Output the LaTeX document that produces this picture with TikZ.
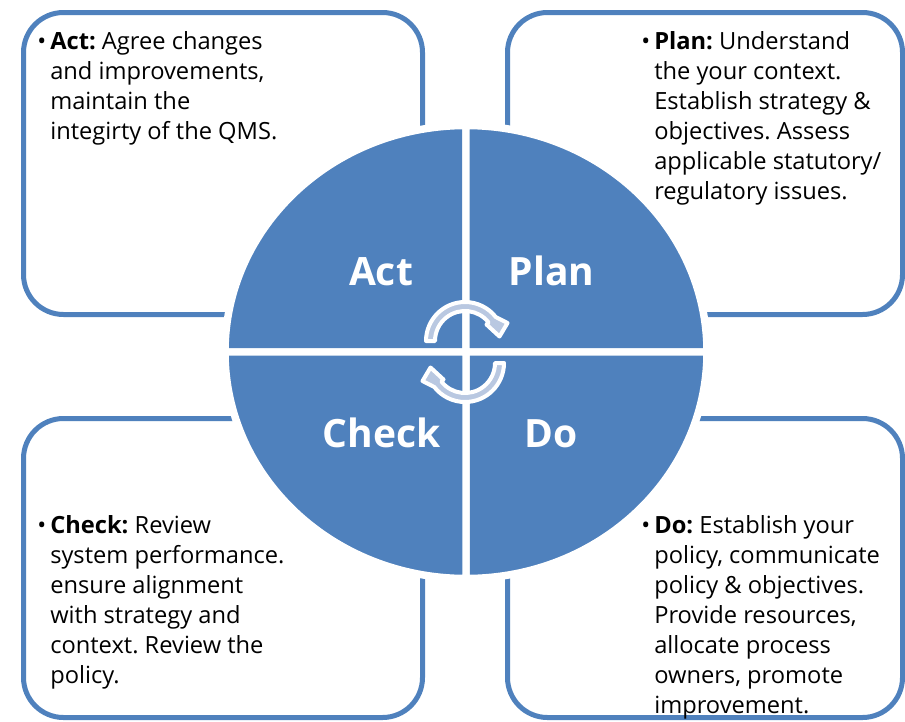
\documentclass[tikz,border=0pt]{standalone}
\usepackage{fontspec}
\setmainfont{Open Sans}
\frenchspacing
\begin{document}
\begin{tikzpicture}[x=0.75pt,y=-0.75pt]
\definecolor{qblue}{HTML}{4F81BD}
\definecolor{qpale}{HTML}{B9C8E1}
\tikzset{
  panel/.style={draw=qblue, line width=3.75pt, rounded corners=30pt, fill=white},
  quad/.style={fill=qblue, draw=white, line width=5.6pt},
  cyc/.style={fill=qpale, draw=white, line width=3pt, line join=round},
  stage/.style={text=white, font=\bfseries\fontsize{29.25}{35}\selectfont, anchor=base, inner sep=0},
  % multi-line nodes sit on the baseline of their last line
  body/.style={anchor=base west, inner sep=0, align=left, font=\fontsize{17.75}{22.5}\selectfont},
  dot/.style={anchor=base west, inner sep=0, font=\fontsize{17.75}{22.5}\selectfont},
  cyclearrow/.pic={
    \path[cyc] (-39,0) arc[start angle=180, end angle=322, radius=39]
      -- (42.5,-18) -- (34.5,-4.5) -- (21.5,-16.5)
      -- (23.64,-18.47) arc[start angle=322, end angle=180, radius=30] -- cycle;
  }
}
\useasboundingbox (0,0) rectangle (905,721);

% four text panels
\draw[panel] (23.5,12.5) rectangle (422.5,314.5);
\draw[panel] (507.5,12.5) rectangle (902.5,314.5);
\draw[panel] (23.5,418.5) rectangle (422.5,717.5);
\draw[panel] (507.5,418.5) rectangle (902.5,717.5);

% the PDCA disc, split into quadrants
\path[quad] (466,352) -- (225,352) arc[start angle=180, end angle=270, x radius=241, y radius=226.5] -- cycle;
\path[quad] (466,352) -- (466,125.5) arc[start angle=270, end angle=360, x radius=241, y radius=226.5] -- cycle;
\path[quad] (466,352) -- (707,352) arc[start angle=0, end angle=90, x radius=241, y radius=226.5] -- cycle;
\path[quad] (466,352) -- (466,578.5) arc[start angle=90, end angle=180, x radius=241, y radius=226.5] -- cycle;

% cycle arrows in the middle
\pic at (465,341) {cyclearrow};
\pic[rotate=180] at (465,363) {cyclearrow};

% stage labels
\node[stage] (act)   at (381,285)   {Act};
\node[stage] (plan)  at (551.5,285) {Plan};
\node[stage] (check) at (381.5,447) {Check};
\node[stage] (do)    at (551,447)   {Do};

% panel texts
\node[dot] (actdot) at (37,49) {•};
\node[body] (acttext) at (50,139) {\textbf{Act:} Agree changes\\and improvements,\\maintain the\\integirty of the QMS.};

\node[dot] (plandot) at (641,49) {•};
\node[body] (plantext) at (654,199) {\textbf{Plan:} Understand\\the your context.\\Establish strategy \&\\objectives. Assess\\applicable statutory/\\regulatory issues.};

\node[dot] (checkdot) at (37,533) {•};
\node[body] (checktext) at (50,683) {\textbf{Check:} Review\\system performance.\\ensure alignment\\with strategy and\\context. Review the\\policy.};

\node[dot] (dodot) at (641,533) {•};
\node[body] (dotext) at (654,713) {\textbf{Do:} Establish your\\policy, communicate\\policy \& objectives.\\Provide resources,\\allocate process\\owners, promote\\improvement.};
\end{tikzpicture}
\end{document}
